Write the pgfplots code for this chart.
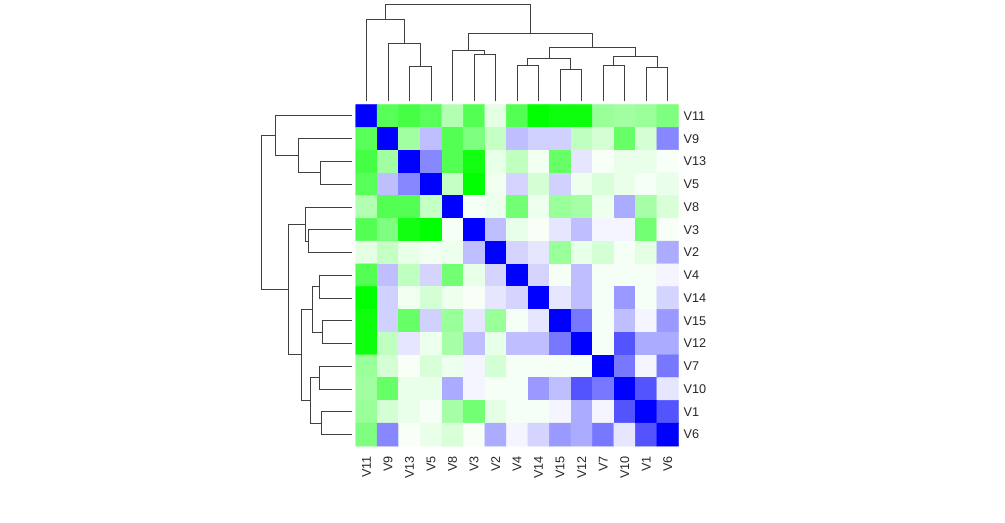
\documentclass[border=0pt]{standalone}
\usepackage{fontspec}
\setmainfont{Liberation Sans}
\usepackage{pgfplots}
\usepackage{pgfplotstable}
\pgfplotsset{compat=1.18}

% dendrogram segments: leaf index i, merge height h; nan rows break the line
\pgfplotstableread{
i h
2 0
2 34.3
3 34.3
3 0
nan nan
1 0
1 57.3
2.5 57.3
2.5 34.3
nan nan
0 0
0 81.5
1.75 81.5
1.75 57.3
nan nan
5 0
5 46.7
6 46.7
6 0
nan nan
4 0
4 50.3
5.5 50.3
5.5 46.7
nan nan
7 0
7 35.3
8 35.3
8 0
nan nan
9 0
9 31.7
10 31.7
10 0
nan nan
7.5 35.3
7.5 42.3
9.5 42.3
9.5 31.7
nan nan
11 0
11 35.3
12 35.3
12 0
nan nan
13 0
13 33.3
14 33.3
14 0
nan nan
11.5 35.3
11.5 45
13.5 45
13.5 33.3
nan nan
8.5 42.3
8.5 54
12.5 54
12.5 45
nan nan
4.75 50.3
4.75 68
10.5 68
10.5 54
nan nan
0.875 81.5
0.875 96.3
7.625 96.3
7.625 68
}\dendro

\begin{document}
\begin{tikzpicture}
\path (0pt,0pt) rectangle (753.75pt,392.25pt);

% heatmap
\begin{axis}[
    at={(266.78pt,57.75pt)}, anchor=south west,
    scale only axis, width=242.1pt, height=256.1pt,
    xmin=-0.5, xmax=14.5, ymin=-0.5, ymax=14.5, y dir=reverse,
    axis line style={draw=none}, major tick length=0pt, tick style={draw=none},
    xtick={0,...,14}, ytick={0,...,14},
    xticklabels={V11,V9,V13,V5,V8,V3,V2,V4,V14,V15,V12,V7,V10,V1,V6},
    yticklabels={V11,V9,V13,V5,V8,V3,V2,V4,V14,V15,V12,V7,V10,V1,V6},
    yticklabel pos=right,
    tick label style={font=\fontsize{9.5}{11}\selectfont, text=black!85, inner sep=0pt},
    xticklabel style={rotate=90, anchor=east},
    yticklabel style={anchor=west},
    xticklabel shift=7.5pt, yticklabel shift=3.6pt,
    colormap={gwb}{rgb255=(0,255,0) rgb255=(255,255,255) rgb255=(0,0,255)},
    point meta min=-1, point meta max=1
]
\addplot[matrix plot*, mesh/cols=15, point meta=explicit] coordinates {
(0,0)[1] (1,0)[-0.65] (2,0)[-0.73] (3,0)[-0.65] (4,0)[-0.3] (5,0)[-0.67] (6,0)[-0.1] (7,0)[-0.67] (8,0)[-1] (9,0)[-0.95] (10,0)[-0.95] (11,0)[-0.4] (12,0)[-0.37] (13,0)[-0.4] (14,0)[-0.5]
(0,1)[-0.65] (1,1)[1] (2,1)[-0.37] (3,1)[0.25] (4,1)[-0.67] (5,1)[-0.5] (6,1)[-0.23] (7,1)[0.25] (8,1)[0.18] (9,1)[0.18] (10,1)[-0.25] (11,1)[-0.17] (12,1)[-0.6] (13,1)[-0.17] (14,1)[0.47]
(0,2)[-0.73] (1,2)[-0.37] (2,2)[1] (3,2)[0.47] (4,2)[-0.67] (5,2)[-0.93] (6,2)[-0.09] (7,2)[-0.25] (8,2)[-0.06] (9,2)[-0.6] (10,2)[0.1] (11,2)[-0.03] (12,2)[-0.08] (13,2)[-0.08] (14,2)[-0.03]
(0,3)[-0.65] (1,3)[0.25] (2,3)[0.47] (3,3)[1] (4,3)[-0.23] (5,3)[-1] (6,3)[-0.06] (7,3)[0.17] (8,3)[-0.17] (9,3)[0.18] (10,3)[-0.07] (11,3)[-0.15] (12,3)[-0.08] (13,3)[-0.04] (14,3)[-0.08]
(0,4)[-0.3] (1,4)[-0.67] (2,4)[-0.67] (3,4)[-0.23] (4,4)[1] (5,4)[-0.04] (6,4)[-0.07] (7,4)[-0.55] (8,4)[-0.07] (9,4)[-0.4] (10,4)[-0.35] (11,4)[-0.07] (12,4)[0.33] (13,4)[-0.35] (14,4)[-0.15]
(0,5)[-0.67] (1,5)[-0.5] (2,5)[-0.93] (3,5)[-1] (4,5)[-0.04] (5,5)[1] (6,5)[0.25] (7,5)[-0.09] (8,5)[-0.03] (9,5)[0.1] (10,5)[0.25] (11,5)[0.04] (12,5)[0.04] (13,5)[-0.55] (14,5)[-0.03]
(0,6)[-0.1] (1,6)[-0.23] (2,6)[-0.09] (3,6)[-0.06] (4,6)[-0.07] (5,6)[0.25] (6,6)[1] (7,6)[0.17] (8,6)[0.1] (9,6)[-0.4] (10,6)[-0.09] (11,6)[-0.17] (12,6)[-0.04] (13,6)[-0.1] (14,6)[0.33]
(0,7)[-0.67] (1,7)[0.25] (2,7)[-0.25] (3,7)[0.17] (4,7)[-0.55] (5,7)[-0.09] (6,7)[0.17] (7,7)[1] (8,7)[0.17] (9,7)[-0.04] (10,7)[0.25] (11,7)[-0.04] (12,7)[-0.04] (13,7)[-0.04] (14,7)[0.04]
(0,8)[-1] (1,8)[0.18] (2,8)[-0.06] (3,8)[-0.17] (4,8)[-0.07] (5,8)[-0.03] (6,8)[0.1] (7,8)[0.17] (8,8)[1] (9,8)[0.1] (10,8)[0.25] (11,8)[-0.04] (12,8)[0.4] (13,8)[-0.04] (14,8)[0.17]
(0,9)[-0.95] (1,9)[0.18] (2,9)[-0.6] (3,9)[0.18] (4,9)[-0.4] (5,9)[0.1] (6,9)[-0.4] (7,9)[-0.04] (8,9)[0.1] (9,9)[1] (10,9)[0.53] (11,9)[-0.04] (12,9)[0.25] (13,9)[0.04] (14,9)[0.4]
(0,10)[-0.95] (1,10)[-0.25] (2,10)[0.1] (3,10)[-0.07] (4,10)[-0.35] (5,10)[0.25] (6,10)[-0.09] (7,10)[0.25] (8,10)[0.25] (9,10)[0.53] (10,10)[1] (11,10)[-0.04] (12,10)[0.67] (13,10)[0.33] (14,10)[0.33]
(0,11)[-0.4] (1,11)[-0.17] (2,11)[-0.03] (3,11)[-0.15] (4,11)[-0.07] (5,11)[0.04] (6,11)[-0.17] (7,11)[-0.04] (8,11)[-0.04] (9,11)[-0.04] (10,11)[-0.04] (11,11)[1] (12,11)[0.53] (13,11)[0.04] (14,11)[0.53]
(0,12)[-0.37] (1,12)[-0.6] (2,12)[-0.08] (3,12)[-0.08] (4,12)[0.33] (5,12)[0.04] (6,12)[-0.04] (7,12)[-0.04] (8,12)[0.4] (9,12)[0.25] (10,12)[0.67] (11,12)[0.53] (12,12)[1] (13,12)[0.67] (14,12)[0.1]
(0,13)[-0.4] (1,13)[-0.17] (2,13)[-0.08] (3,13)[-0.04] (4,13)[-0.35] (5,13)[-0.55] (6,13)[-0.1] (7,13)[-0.04] (8,13)[-0.04] (9,13)[0.04] (10,13)[0.33] (11,13)[0.04] (12,13)[0.67] (13,13)[1] (14,13)[0.67]
(0,14)[-0.5] (1,14)[0.47] (2,14)[-0.03] (3,14)[-0.08] (4,14)[-0.15] (5,14)[-0.03] (6,14)[0.33] (7,14)[0.04] (8,14)[0.17] (9,14)[0.4] (10,14)[0.33] (11,14)[0.53] (12,14)[0.1] (13,14)[0.67] (14,14)[1]
};
\end{axis}

% column dendrogram
\begin{axis}[
    at={(266.78pt,316.5pt)}, anchor=south west,
    scale only axis, width=242.1pt, height=72.2pt,
    xmin=-0.5, xmax=14.5, ymin=0, ymax=96.3,
    hide axis, clip=false, unbounded coords=jump
]
\addplot[black!75, line width=0.7pt] table[x=i, y=h] {\dendro};
\end{axis}

% row dendrogram
\begin{axis}[
    at={(196.28pt,57.75pt)}, anchor=south west,
    scale only axis, width=67.95pt, height=256.1pt,
    xmin=0, xmax=96.3, x dir=reverse,
    ymin=-0.5, ymax=14.5, y dir=reverse,
    hide axis, clip=false, unbounded coords=jump
]
\addplot[black!75, line width=0.7pt] table[x=h, y=i] {\dendro};
\end{axis}
\end{tikzpicture}
\end{document}
